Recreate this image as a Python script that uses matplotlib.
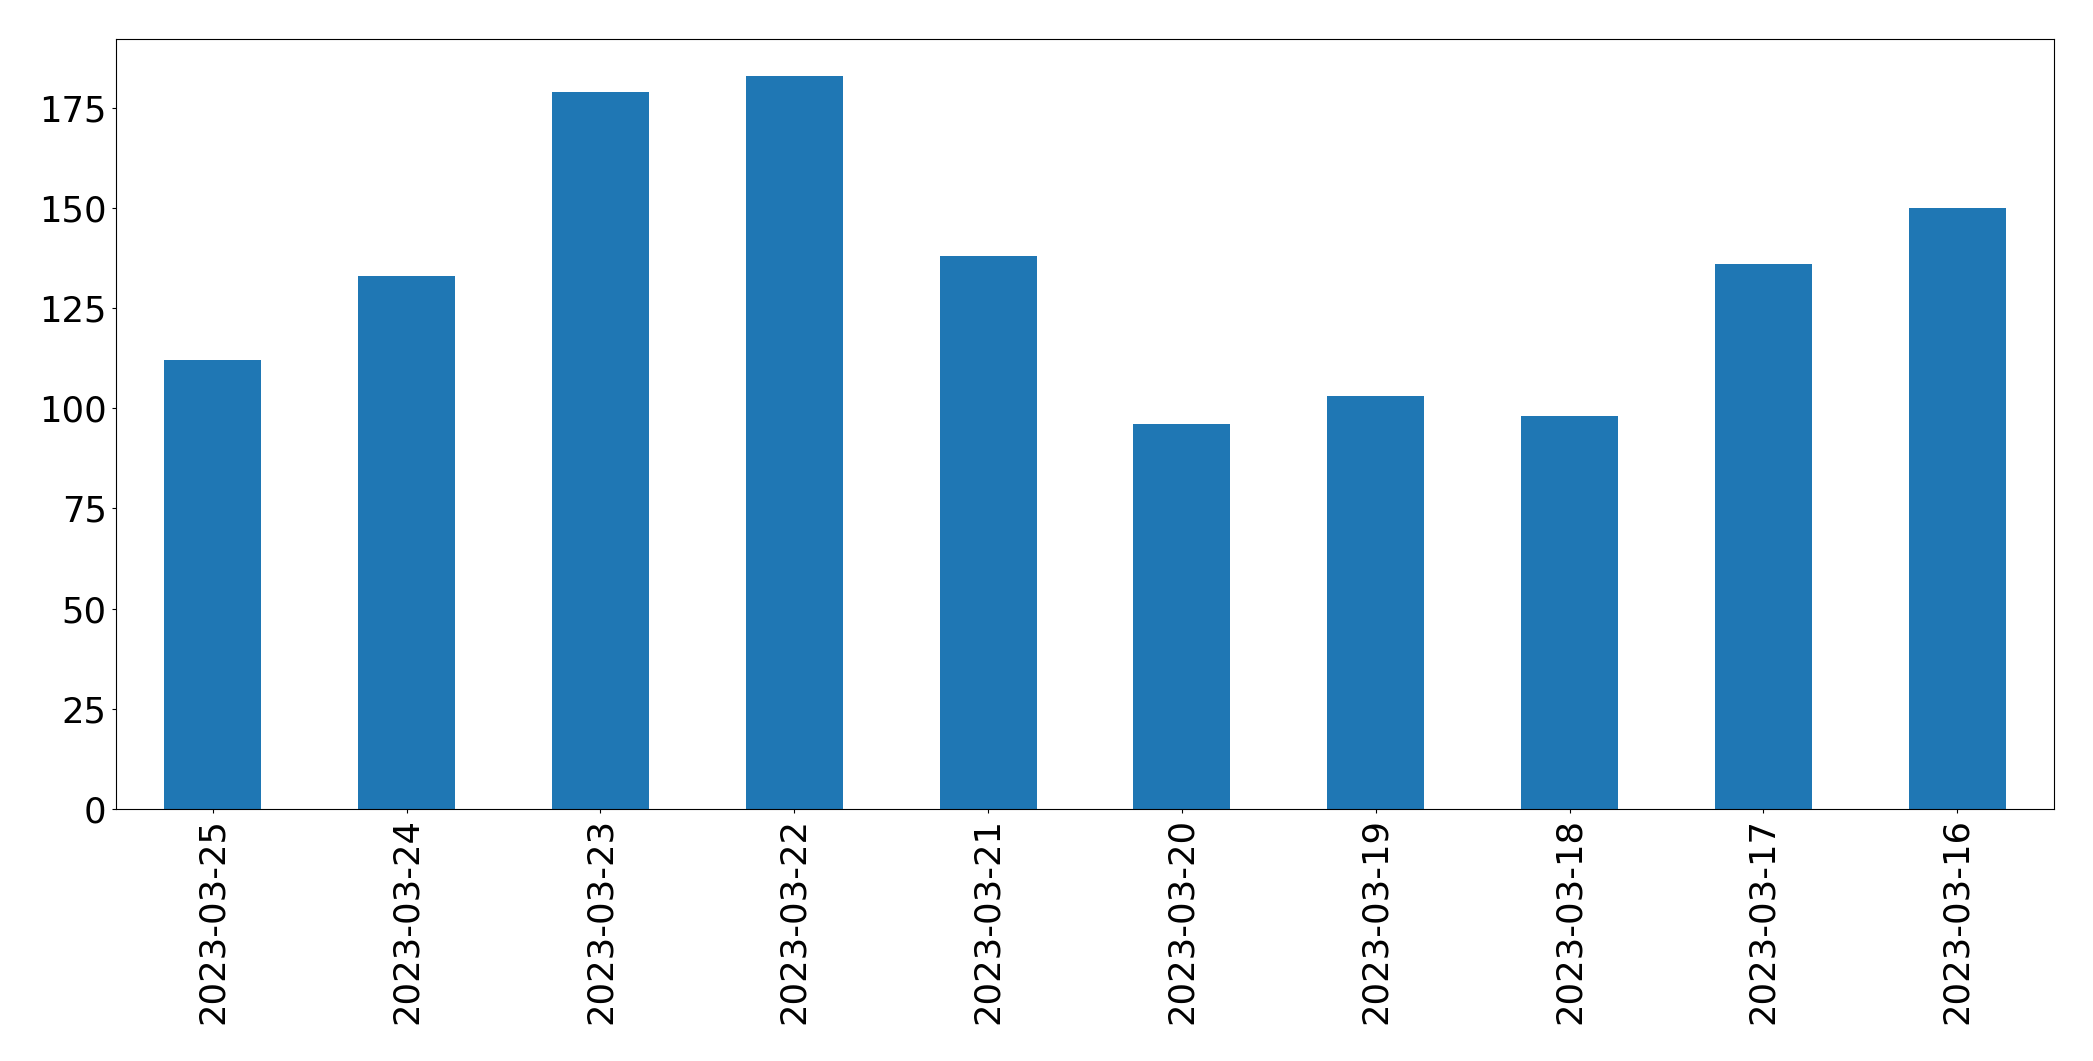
import matplotlib
matplotlib.use("Agg")
import matplotlib.pyplot as plt
import numpy as np

dates = ["2023-03-25", "2023-03-24", "2023-03-23", "2023-03-22", "2023-03-21",
         "2023-03-20", "2023-03-19", "2023-03-18", "2023-03-17", "2023-03-16"]
counts = [112, 133, 179, 183, 138, 96, 103, 98, 136, 150]

fig = plt.figure(figsize=(20.93, 10.61), dpi=100)
ax = fig.add_axes([0.0554, 0.2375, 0.9814 - 0.0554, 0.9632 - 0.2375])
x = np.arange(len(dates))
ax.bar(x, counts, width=0.5, color="#1f77b4")
ax.set_xlim(-0.5, len(dates) - 0.5)
ax.set_ylim(0, max(counts) * 1.05)
ax.set_yticks(np.arange(0, 176, 25))
ax.set_xticks(x)
ax.set_xticklabels(dates, rotation=90)
ax.tick_params(labelsize=25.5, length=3.2, width=0.8)
for s in ax.spines.values():
    s.set_linewidth(0.8)
fig.savefig("out.png", dpi=100)
